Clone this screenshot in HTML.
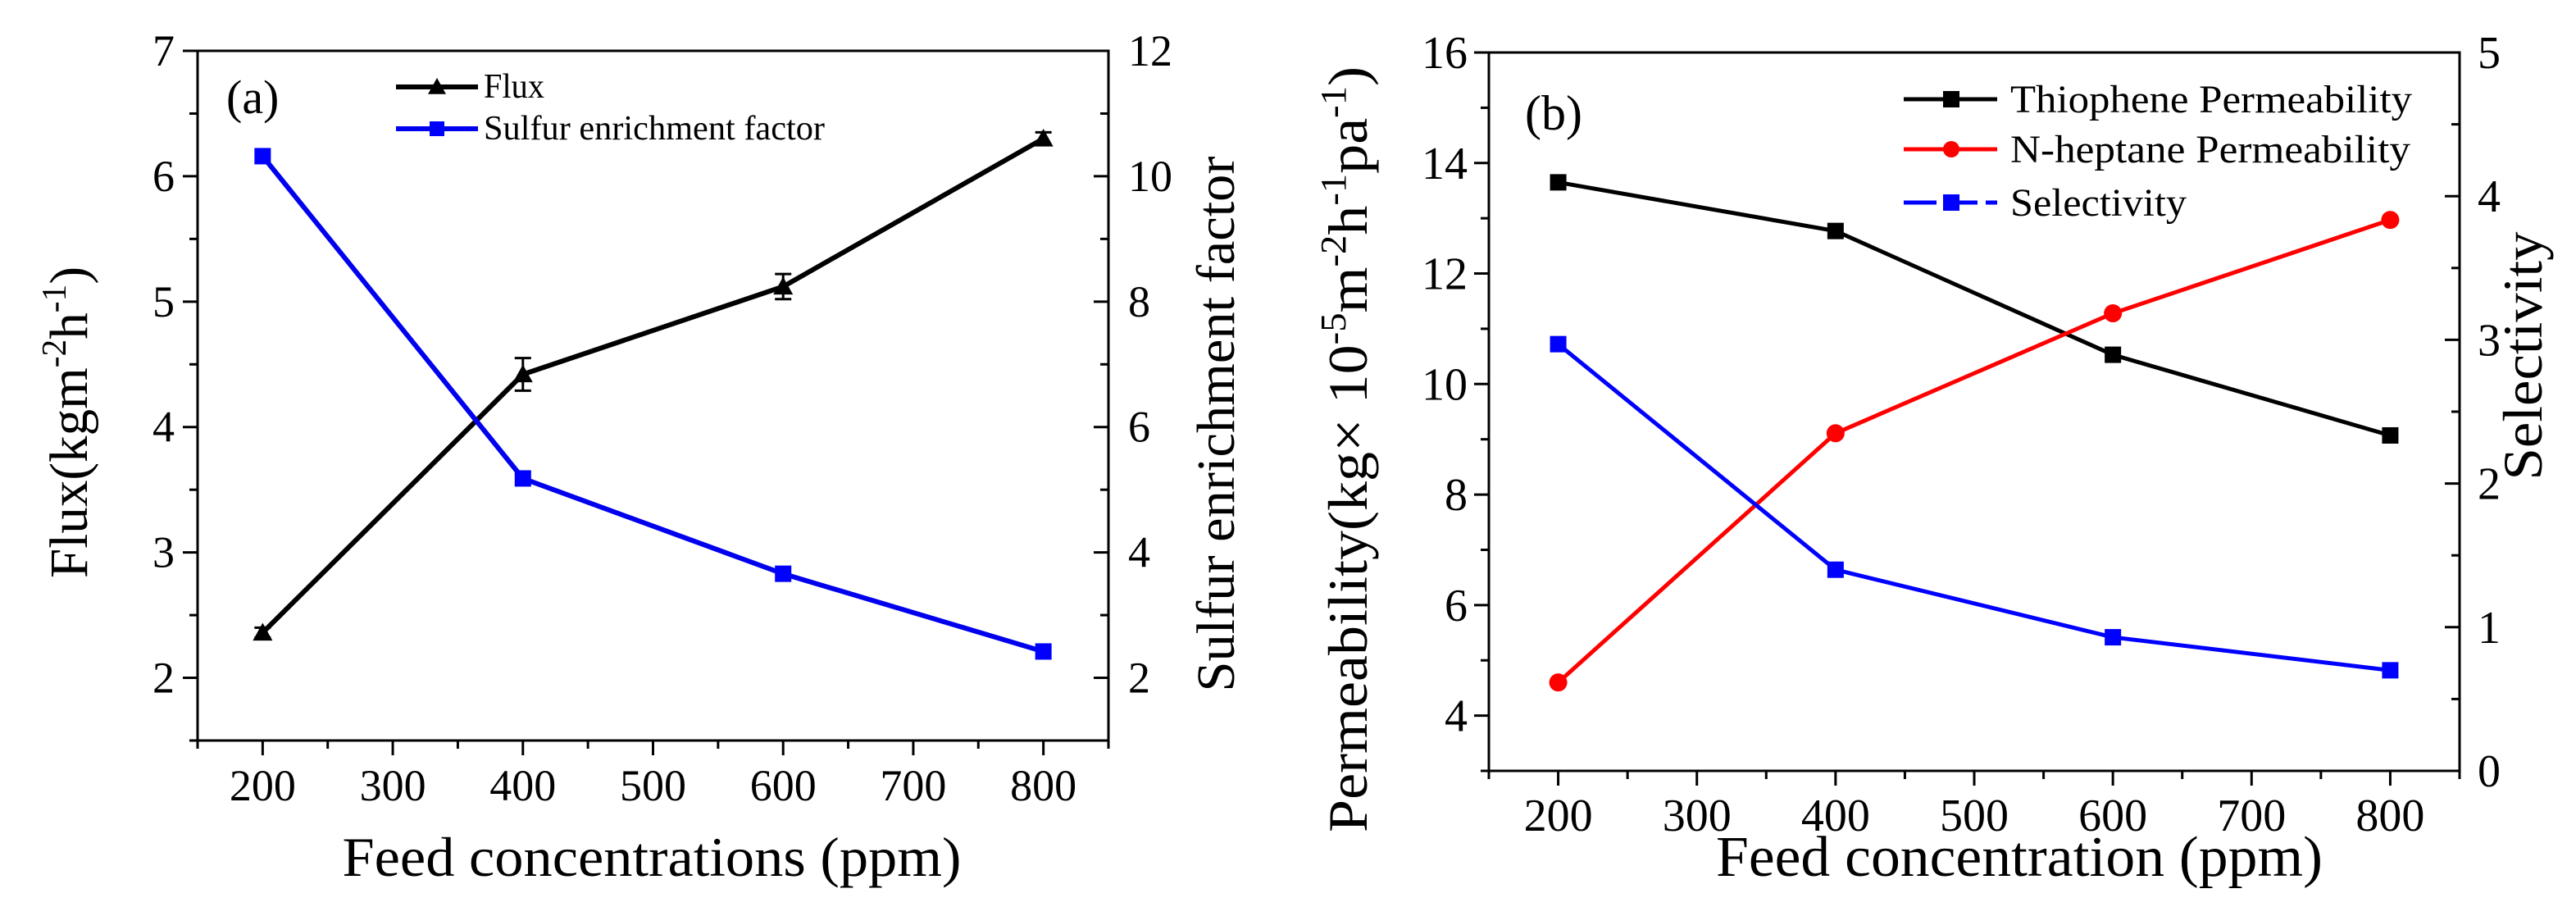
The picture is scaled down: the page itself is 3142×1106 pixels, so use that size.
<!DOCTYPE html>
<html><head><meta charset="utf-8">
<style>
html,body{margin:0;padding:0;background:#fff;}
svg{display:block;}
svg text{font-family:"Liberation Serif","Times New Roman",serif;}
</style></head>
<body>
<svg id="chart" width="3142" height="1106" viewBox="0 0 3142 1106" xmlns="http://www.w3.org/2000/svg"></svg>
<script>
// ---- Panel (a) data ----
const xCatsA = [200, 400, 600, 800];
const fluxVals = [2.36, 4.42, 5.12, 6.30];
const fluxErr = [0.04, 0.13, 0.10, 0.05];
const sulfurVals = [10.32, 5.18, 3.66, 2.42];
const xTicksA = [200, 300, 400, 500, 600, 700, 800];
const yLeftTicksA = [2, 3, 4, 5, 6, 7];
const yRightTicksA = [2, 4, 6, 8, 10, 12];
// ---- Panel (b) data ----
const xCatsB = [200, 400, 600, 800];
const thiopheneVals = [13.65, 12.77, 10.53, 9.07];
const heptaneVals = [4.60, 9.11, 11.28, 12.97];
const selectivityVals = [2.97, 1.40, 0.93, 0.70];
const xTicksB = [200, 300, 400, 500, 600, 700, 800];
const yLeftTicksB = [4, 6, 8, 10, 12, 14, 16];
const yRightTicksB = [0, 1, 2, 3, 4, 5];

const NS = "http://www.w3.org/2000/svg";
const svg = document.getElementById('chart');
function mk(tag, attrs, parent, text) {
  const e = document.createElementNS(NS, tag);
  for (const k in attrs) e.setAttribute(k, attrs[k]);
  if (tag === 'text') e.setAttribute('font-family', '"Liberation Serif", serif');
  if (text !== undefined) e.textContent = text;
  (parent || svg).appendChild(e);
  return e;
}
function lin(d0, d1, r0, r1) { return v => r0 + (v - d0) * (r1 - r0) / (d1 - d0); }

function marker(g, shape, x, y, color, size) {
  let m;
  if (shape === 'tri') {
    m = mk('polygon', {points: `${x},${y-size} ${x-size},${y+size*0.8} ${x+size},${y+size*0.8}`, fill: color}, g);
  } else if (shape === 'circle') {
    m = mk('circle', {cx: x, cy: y, r: size, fill: color}, g);
  } else {
    m = mk('rect', {x: x-size, y: y-size, width: size*2, height: size*2, fill: color}, g);
  }
  return m;
}

// ================= Panel A =================
(function(){
  const L=241, R=1352, T=62, B=903;
  const x = lin(150, 850, L, R);
  const yL = lin(1.5, 7, B, T);
  const yR = lin(1, 12, B, T);
  const g = mk('g', {});
  
  
  const ax = mk('g', {stroke:'#000','stroke-width':3,fill:'none'}, g);
  
  
  mk('rect', {x:L, y:T, width:R-L, height:B-T}, ax);
  for (let v=150; v<=850; v+=50) {
    const major = v % 100 === 0;
    mk('line', {x1:x(v), x2:x(v), y1:B, y2:B+(major?18:10)}, ax);
  }
  xTicksA.forEach(v => {
    const t = mk('text', {x:x(v), y:976, 'font-size':54, 'text-anchor':'middle', fill:'#000'}, g, v);
    
    
  });
  for (let v=1.5; v<=7.001; v+=0.5) {
    const major = Math.abs(v - Math.round(v)) < 1e-6;
    mk('line', {x1:L, x2:L-(major?18:10), y1:yL(v), y2:yL(v)}, ax);
  }
  yLeftTicksA.forEach(v => {
    const t = mk('text', {x:L-28, y:yL(v)+18, 'font-size':54, 'text-anchor':'end', fill:'#000'}, g, v);
    
    
  });
  for (let v=1; v<=12; v+=1) {
    const major = v % 2 === 0;
    mk('line', {x1:R, x2:R-(major?18:10), y1:yR(v), y2:yR(v)}, ax);
  }
  yRightTicksA.forEach(v => {
    const t = mk('text', {x:R+24, y:yR(v)+18, 'font-size':54, 'text-anchor':'start', fill:'#000'}, g, v);
    
    
  });
  const xt = mk('text', {x:795, y:1068, 'font-size':68, 'text-anchor':'middle', textLength:755, lengthAdjust:'spacingAndGlyphs', fill:'#000'}, g, 'Feed concentrations (ppm)');
  
  
  const yt = mk('text', {transform:'translate(106,515) rotate(-90)', 'font-size':66, 'text-anchor':'middle', textLength:380, lengthAdjust:'spacingAndGlyphs', fill:'#000'}, g);
  
  
  yt.innerHTML = 'Flux(kgm<tspan dy="-26" font-size="42">-2</tspan><tspan dy="26">h</tspan><tspan dy="-26" font-size="42">-1</tspan><tspan dy="26">)</tspan>';
  const yr = mk('text', {transform:'translate(1505,517) rotate(-90)', 'font-size':66, 'text-anchor':'middle', textLength:653, lengthAdjust:'spacingAndGlyphs', fill:'#000'}, g, 'Sulfur enrichment factor');
  
  
  const lab = mk('text', {x:276, y:138, 'font-size':58, fill:'#000'}, g, '(a)');
  
  
  const sF = mk('g', {}, g);
  
  
  mk('polyline', {points: xCatsA.map((c,i)=>`${x(c)},${yL(fluxVals[i])}`).join(' '), fill:'none', stroke:'#000', 'stroke-width':6}, sF);
  xCatsA.forEach((c,i)=>{
    const cx=x(c), e1=yL(fluxVals[i]+fluxErr[i]), e2=yL(fluxVals[i]-fluxErr[i]);
    mk('line',{x1:cx,x2:cx,y1:e1,y2:e2,stroke:'#000','stroke-width':3},sF);
    mk('line',{x1:cx-10,x2:cx+10,y1:e1,y2:e1,stroke:'#000','stroke-width':3},sF);
    mk('line',{x1:cx-10,x2:cx+10,y1:e2,y2:e2,stroke:'#000','stroke-width':3},sF);
    const m = marker(sF,'tri',cx,yL(fluxVals[i]),'#000',12);
    
    
  });
  const sS = mk('g', {}, g);
  
  
  mk('polyline', {points: xCatsA.map((c,i)=>`${x(c)},${yR(sulfurVals[i])}`).join(' '), fill:'none', stroke:'#0000ee', 'stroke-width':6}, sS);
  xCatsA.forEach((c,i)=>{
    const m = marker(sS,'square',x(c),yR(sulfurVals[i]),'#0000ff',10);
    
    
  });
  const lg = mk('g', {}, g);
  
  
  mk('line',{x1:483,x2:583,y1:106,y2:106,stroke:'#000','stroke-width':6},lg);
  marker(lg,'tri',533,106,'#000',11);
  mk('text',{x:590,y:119,'font-size':42,textLength:74,lengthAdjust:'spacingAndGlyphs',fill:'#000'},lg,'Flux');
  mk('line',{x1:483,x2:583,y1:157,y2:157,stroke:'#0000ee','stroke-width':6},lg);
  marker(lg,'square',533,157,'#0000ff',9);
  mk('text',{x:590,y:170,'font-size':42,textLength:416,lengthAdjust:'spacingAndGlyphs',fill:'#000'},lg,'Sulfur enrichment factor');
})();

// ================= Panel B =================
(function(){
  const L=1816, R=3000, T=64, B=940;
  const x = lin(150, 850, L, R);
  const yL = lin(3, 16, B, T);
  const yR = lin(0, 5, B, T);
  const g = mk('g', {});
  
  
  const ax = mk('g', {stroke:'#000','stroke-width':3,fill:'none'}, g);
  
  
  mk('rect', {x:L, y:T, width:R-L, height:B-T}, ax);
  for (let v=150; v<=850; v+=50) {
    const major = v % 100 === 0;
    mk('line', {x1:x(v), x2:x(v), y1:B, y2:B+(major?18:10)}, ax);
  }
  xTicksB.forEach(v => {
    const t = mk('text', {x:x(v), y:1013, 'font-size':56, 'text-anchor':'middle', fill:'#000'}, g, v);
    
    
  });
  for (let v=3; v<=16; v+=1) {
    const major = v % 2 === 0;
    mk('line', {x1:L, x2:L-(major?18:10), y1:yL(v), y2:yL(v)}, ax);
  }
  yLeftTicksB.forEach(v => {
    const t = mk('text', {x:L-26, y:yL(v)+19, 'font-size':56, 'text-anchor':'end', fill:'#000'}, g, v);
    
    
  });
  for (let v=0; v<=5.001; v+=0.5) {
    const major = Math.abs(v - Math.round(v)) < 1e-6;
    mk('line', {x1:R, x2:R-(major?18:10), y1:yR(v), y2:yR(v)}, ax);
  }
  yRightTicksB.forEach(v => {
    const t = mk('text', {x:R+22, y:yR(v)+19, 'font-size':56, 'text-anchor':'start', fill:'#000'}, g, v);
    
    
  });
  const xt = mk('text', {x:2463, y:1068, 'font-size':70, 'text-anchor':'middle', textLength:740, lengthAdjust:'spacingAndGlyphs', fill:'#000'}, g, 'Feed concentration (ppm)');
  
  
  const yt = mk('text', {transform:'translate(1667,548) rotate(-90)', 'font-size':68, 'text-anchor':'middle', textLength:934, lengthAdjust:'spacingAndGlyphs', fill:'#000'}, g);
  
  
  yt.innerHTML = 'Permeability(kg×  10<tspan dy="-26" font-size="44">-5</tspan><tspan dy="26">m</tspan><tspan dy="-26" font-size="44">-2</tspan><tspan dy="26">h</tspan><tspan dy="-26" font-size="44">-1</tspan><tspan dy="26">pa</tspan><tspan dy="-26" font-size="44">-1</tspan><tspan dy="26">)</tspan>';
  const yr = mk('text', {transform:'translate(3100,434) rotate(-90)', 'font-size':68, 'text-anchor':'middle', textLength:303, lengthAdjust:'spacingAndGlyphs', fill:'#000'}, g, 'Selectivity');
  
  
  const lab = mk('text', {x:1860, y:158, 'font-size':60, fill:'#000'}, g, '(b)');
  
  

  function series(name, vals, yScale, color, shape, size) {
    const s = mk('g', {}, g);
    
    
    mk('polyline', {points: xCatsB.map((c,i)=>`${x(c)},${yScale(vals[i])}`).join(' '), fill:'none', stroke:color, 'stroke-width':5}, s);
    xCatsB.forEach((c,i)=>{
      const m = marker(s, shape, x(c), yScale(vals[i]), color, size);
      
      
    });
  }
  series('series-thiophene', thiopheneVals, yL, '#000', 'square', 10);
  series('series-heptane', heptaneVals, yL, '#ff0000', 'circle', 11);
  series('series-selectivity', selectivityVals, yR, '#0000ff', 'square', 10);

  const lg = mk('g', {}, g);
  
  
  const items = [['Thiophene Permeability','#000','square',121,490,''],['N-heptane Permeability','#ff0000','circle',182,488,''],['Selectivity','#0000ff','square',247,215,'40 10']];
  items.forEach(it=>{
    const ln = mk('line',{x1:2322,x2:2436,y1:it[3],y2:it[3],stroke:it[1],'stroke-width':5},lg);
    if (it[5]) ln.setAttribute('stroke-dasharray', it[5]);
    marker(lg,it[2],2380,it[3],it[1],10);
    mk('text',{x:2452,y:it[3]+16,'font-size':48,textLength:it[4],lengthAdjust:'spacingAndGlyphs',fill:'#000'},lg,it[0]);
  });
})();
</script>
</body></html>
